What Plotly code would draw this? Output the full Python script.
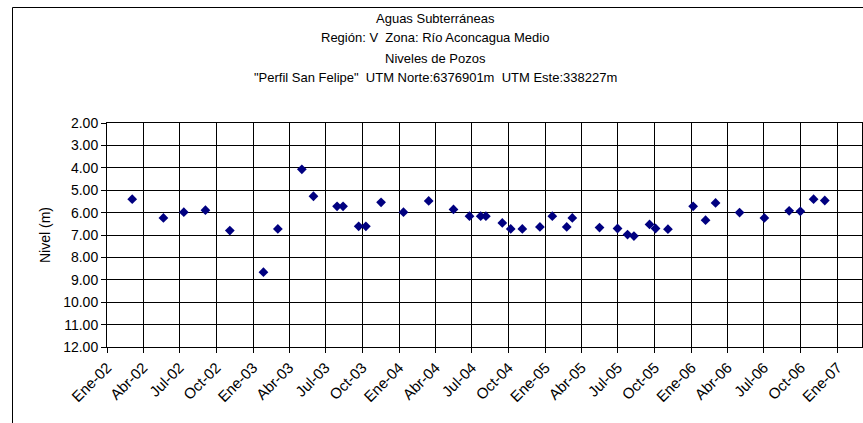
import plotly.graph_objects as go

# Fechas de medición y nivel del agua (m) en el pozo
fechas = [
    "2002-03-05", "2002-05-22", "2002-07-12", "2002-09-04", "2002-11-04",
    "2003-01-27", "2003-03-04", "2003-05-03", "2003-06-01", "2003-07-30",
    "2003-08-14", "2003-09-22", "2003-10-10", "2003-11-17", "2004-01-12",
    "2004-03-15", "2004-05-16", "2004-06-25", "2004-07-23", "2004-08-05",
    "2004-09-15", "2004-10-06", "2004-11-04", "2004-12-18", "2005-01-18",
    "2005-02-23", "2005-03-09", "2005-05-16", "2005-06-30", "2005-07-25",
    "2005-08-10", "2005-09-18", "2005-10-03", "2005-11-03", "2006-01-05",
    "2006-02-05", "2006-03-02", "2006-05-01", "2006-07-02", "2006-09-02",
    "2006-09-30", "2006-11-02", "2006-11-30",
]
niveles = [
    5.40, 6.24, 5.98, 5.89, 6.80,
    8.66, 6.73, 4.07, 5.27, 5.72,
    5.72, 6.61, 6.61, 5.54, 5.98,
    5.48, 5.86, 6.16, 6.16, 6.16,
    6.46, 6.73, 6.73, 6.64, 6.16,
    6.64, 6.24, 6.67, 6.71, 6.98,
    7.05, 6.53, 6.71, 6.74, 5.72,
    6.34, 5.57, 6.00, 6.24, 5.92,
    5.94, 5.40, 5.46,
]

# Marcas trimestrales del eje de fechas
tick_fechas = [
    "2002-01-01", "2002-04-01", "2002-07-01", "2002-10-01",
    "2003-01-01", "2003-04-01", "2003-07-01", "2003-10-01",
    "2004-01-01", "2004-04-01", "2004-07-01", "2004-10-01",
    "2005-01-01", "2005-04-01", "2005-07-01", "2005-10-01",
    "2006-01-01", "2006-04-01", "2006-07-01", "2006-10-01",
    "2007-01-01",
]
tick_textos = [
    "Ene-02", "Abr-02", "Jul-02", "Oct-02",
    "Ene-03", "Abr-03", "Jul-03", "Oct-03",
    "Ene-04", "Abr-04", "Jul-04", "Oct-04",
    "Ene-05", "Abr-05", "Jul-05", "Oct-05",
    "Ene-06", "Abr-06", "Jul-06", "Oct-06",
    "Ene-07",
]

titulo = [
    "Aguas Subterráneas",
    "Región: V  Zona: Río Aconcagua Medio",
    "Niveles de Pozos",
    "\"Perfil San Felipe\"  UTM Norte:6376901m  UTM Este:338227m",
]

W, H = 863, 423
ML, MR, MT, MB = 107, 1, 123, 76
FONT = "Arial, Liberation Sans, sans-serif"


def px_x(px):
    return (px - ML) / (W - ML - MR)


def px_y(py):
    return (H - MB - py) / (H - MT - MB)


fig = go.Figure()
fig.add_trace(go.Scatter(
    x=fechas, y=niveles, mode="markers",
    marker=dict(symbol="diamond", size=7.5, color="#000080",
                line=dict(width=0)),
    hoverinfo="x+y", showlegend=False,
))

annotations = []
for i, linea in enumerate(titulo):
    annotations.append(dict(
        text=linea, xref="paper", yref="paper",
        x=px_x(435), y=px_y(18 + 20 * i),
        xanchor="center", yanchor="middle", showarrow=False,
        font=dict(family=FONT, size=13, color="black"),
    ))
annotations.append(dict(
    text="Nivel (m)", xref="paper", yref="paper",
    x=px_x(45), y=px_y(235), textangle=-90,
    xanchor="center", yanchor="middle", showarrow=False,
    font=dict(family=FONT, size=14, color="black"),
))

fig.update_layout(
    width=W, height=H,
    margin=dict(l=ML, r=MR, t=MT, b=MB, pad=0),
    paper_bgcolor="white", plot_bgcolor="white",
    font=dict(family=FONT, size=13, color="black"),
    annotations=annotations,
    shapes=[dict(
        type="rect", xref="paper", yref="paper",
        x0=px_x(12.5), x1=px_x(880), y0=px_y(440), y1=px_y(7.5),
        line=dict(color="black", width=1), fillcolor="rgba(0,0,0,0)",
        layer="below",
    )],
    xaxis=dict(
        type="date", range=["2002-01-01", "2007-03-03"],
        tickmode="array", tickvals=tick_fechas, ticktext=tick_textos,
        tickangle=-45, ticks="outside", ticklen=5, tickcolor="black",
        showgrid=True, gridcolor="black", gridwidth=1,
        showline=True, linecolor="black", linewidth=1, mirror=True,
        zeroline=False, tickfont=dict(family=FONT, size=15),
    ),
    yaxis=dict(
        range=[12, 2], dtick=1, tick0=2, tickformat=".2f",
        ticks="outside", ticklen=5, tickcolor="black",
        showgrid=True, gridcolor="black", gridwidth=1,
        showline=True, linecolor="black", linewidth=1, mirror=True,
        zeroline=False, tickfont=dict(family=FONT, size=14),
    ),
)

fig.write_html("out.html")
